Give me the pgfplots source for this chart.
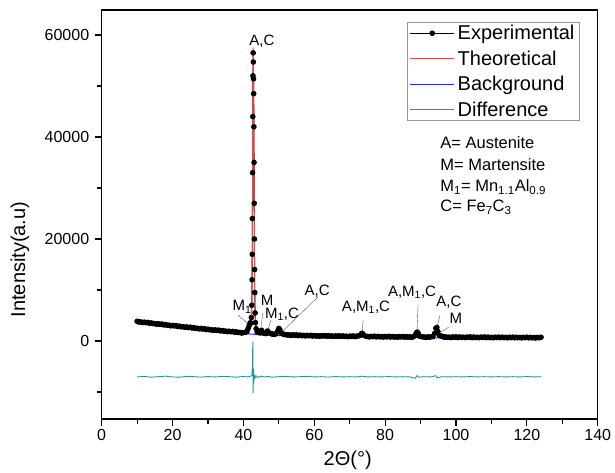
\documentclass[border=0pt]{standalone}
\usepackage{fontspec}
\setmainfont{Liberation Sans}
\usepackage{pgfplots}
\pgfplotsset{compat=1.18}

\definecolor{theo}{RGB}{235,70,70}
\definecolor{bgline}{RGB}{40,40,255}
\definecolor{diffc}{RGB}{40,150,150}

% experimental pattern (2theta, counts)
\pgfplotstableread{
x y
10 3860
10.5 3720
11 3740
11.5 3610
12 3690
12.5 3580
13 3640
13.5 3470
14 3540
14.5 3400
15 3420
15.5 3290
16 3370
16.5 3260
17 3320
17.5 3150
18 3220
18.5 3080
19 3100
19.5 2970
20 3050
20.5 2940
21 3005
21.5 2840
22 2910
22.5 2770
23 2795
23.5 2670
24 2750
24.5 2640
25 2705
25.5 2540
26 2610
26.5 2470
27 2495
27.5 2370
28 2450
28.5 2340
29 2405
29.5 2240
30 2310
30.5 2180
31 2205
31.5 2080
32 2170
32.5 2070
33 2135
33.5 1970
34 2050
34.5 1920
35 1945
35.5 1820
36 1910
36.5 1810
37 1875
37.5 1710
38 1790
38.5 1660
39 1685
39.5 1560
40 1650
40.5 1700
41.0 1850
41.3 2400
41.6 3000
41.9 3550
42.1 3500
42.25 4600
42.35 7000
42.45 12000
42.5 17000
42.55 24000
42.6 33000
42.65 44000
42.7 52000
42.75 56500
42.8 54700
42.85 51400
42.9 48500
42.95 42000
43.0 35000
43.05 27000
43.1 20000
43.15 14000
43.2 9500
43.3 5500
43.4 3600
43.6 2400
43.9 1750
44.3 1650
44.8 1600
45.1 2100
45.4 1650
45.8 1550
46.3 1450
46.8 1950
47.2 1600
47.8 1450
48.2 1350
48.5 1280
48.9 1330
49.2 1450
49.7 1950
50.0 2450
50.3 2200
50.7 1550
51.2 1360
51.6 1250
52 1260
52.5 1150
53 1200
53.5 1095
54 1200
54.5 1115
55 1200
55.5 1055
56 1150
56.5 1040
57 1090
57.5 990
58 1100
58.5 1020
59 1110
59.5 970
60 1070
60.5 965
61 1020
61.5 925
62 1040
62.5 965
63 1060
63.5 925
64 1030
64.5 925
65 980
65.5 885
66 1000
66.5 925
67 1020
67.5 885
68 990
68.5 885
69 940
69.5 845
70 960
70.5 886
71 982
71.5 848
72 954
72.5 1000
73.0 1150
73.3 1450
73.6 1480
73.9 1150
74.5 930
75 890
75.5 796
76 912
76.5 838
77 934
77.5 800
78 906
78.5 802
79 858
79.5 764
80 880
80.5 807
81 904
81.5 771
82 878
82.5 775
83 832
83.5 739
84 856
84.5 783
85 880
85.5 747
86 854
86.5 751
87 808
87.5 715
88.0 850
88.5 1150
88.8 1600
89.1 1750
89.4 1400
89.8 920
90.5 800
91 786
91.5 693
92 810
92.5 737
93 834
93.5 850
94.0 1500
94.3 2500
94.6 2650
94.9 1850
95.3 1100
95.8 950
96.2 900
96.6 760
97 802
97.5 700
98 758
98.5 666
99 784
99.5 712
100 810
100.5 678
101 787
101.5 685
102 743
102.5 652
103 770
103.5 698
104 797
104.5 665
105 773
105.5 672
106 730
106.5 638
107 757
107.5 685
108 783
108.5 652
109 760
109.5 658
110 717
110.5 625
111 743
111.5 672
112 770
112.5 638
113 747
113.5 645
114 703
114.5 612
115 730
115.5 658
116 757
116.5 625
117 733
117.5 632
118 690
118.5 598
119 717
119.5 645
120 743
120.5 612
121 720
121.5 618
122 677
122.5 585
123 703
123.5 632
124 730
}\expdata

\pgfplotstableread{
x y
10 3800
15 3400
20 3000
25 2600
30 2250
35 1900
39 1660
40 1600
40.5 1650
41 1850
41.3 2300
41.6 2950
41.9 3450
42.1 3500
42.25 4500
42.35 7000
42.45 12000
42.5 17000
42.55 24500
42.6 34000
42.65 45000
42.7 53000
42.75 57500
42.8 55000
42.85 51000
42.9 47000
42.95 41000
43.0 34000
43.05 26500
43.1 19500
43.15 13500
43.2 9200
43.3 5300
43.4 3500
43.6 2350
43.9 1750
44.3 1600
44.8 1620
45.1 2000
45.4 1650
45.8 1500
46.3 1480
46.8 1900
47.2 1600
47.8 1420
48.5 1320
49.2 1420
49.7 1950
50.0 2400
50.3 2150
50.7 1550
51.2 1300
52 1200
55 1120
60 1010
65 960
70 910
72.5 920
73.0 1100
73.3 1400
73.6 1450
73.9 1150
74.5 900
80 830
85 800
87.5 790
88.0 830
88.5 1100
88.8 1550
89.1 1700
89.4 1350
89.8 900
90.5 780
93 765
93.5 820
94.0 1500
94.3 2450
94.6 2600
94.9 1800
95.3 1050
95.8 920
96.2 880
96.6 770
100 740
110 700
124 650
}\theodata

\pgfplotstableread{
x y
10 3650
15 3250
20 2850
25 2450
30 2100
35 1750
40 1450
45 1220
50 1050
55 950
60 870
70 770
80 690
90 630
100 590
110 550
124 510
}\bgdata

\pgfplotstableread{
x y
10 -7050
12 -6950
14 -7100
16 -7000
18 -6900
20 -7050
22 -7100
24 -6950
26 -7000
28 -7080
30 -6980
32 -7050
34 -6950
36 -7000
38 -7100
40 -6950
41 -7050
42 -6900
42.4 -6800
42.55 -4500
42.65 -200
42.72 -10200
42.8 -5500
42.9 -8300
43.0 -6500
43.2 -7400
43.5 -6800
44 -7150
45 -6900
46 -7050
47 -6950
48 -7100
50 -7000
52 -6950
54 -7050
56 -7000
58 -6950
60 -7050
62 -7000
64 -7080
66 -6980
68 -7050
70 -7000
72 -7050
73.5 -6900
75 -7050
77 -7000
79 -7050
81 -6980
83 -7050
85 -7000
87 -7050
88.5 -7300
89 -6800
89.5 -7100
91 -7000
93 -7050
94.3 -6800
94.8 -7250
96 -7000
98 -7050
100 -7000
102 -7050
104 -6980
106 -7040
108 -7000
110 -7050
112 -6990
114 -7050
116 -7000
118 -7050
120 -6980
122 -7050
124 -7000
}\diffdata

\begin{document}
\begin{tikzpicture}
\begin{axis}[
  width=496pt, height=409pt, scale only axis,
  xmin=0, xmax=140, ymin=-15300, ymax=64900,
  xtick={0,20,...,140}, minor xtick={10,30,...,130},
  ytick={0,20000,40000,60000}, minor ytick={-10000,10000,30000,50000},
  scaled y ticks=false,
  tick pos=left, tick align=outside,
  major tick length=7pt, minor tick length=4.5pt,
  axis line style={line width=1.1pt},
  tick style={black, line width=1.1pt},
  ticklabel style={font=\fontsize{16}{19}\selectfont},
  yticklabel style={xshift=-2pt},
  /pgf/number format/assume math mode=true,
  /pgf/number format/fixed,
  /pgf/number format/set thousands separator={},
  clip=false,
  legend style={at={(0.964,0.971)}, anchor=north east, draw=gray!80,
    line width=0.8pt, font=\fontsize{20}{22}\selectfont,
    row sep=7.5pt, inner sep=2pt, nodes={inner xsep=3pt, inner ysep=1pt}},
  legend cell align=left,
  legend image code/.code={\draw[mark repeat=2,mark phase=2,#1]
    plot coordinates {(0pt,0pt) (22pt,0pt) (44pt,0pt)};},
]
\addplot[black, draw=black, line width=1pt, line join=round, mark=*, mark size=2.3pt] table[x=x,y=y] {\expdata};
\addlegendentry{Experimental}
\addplot[theo, draw=theo, line width=1pt, line join=round] table[x=x,y=y] {\theodata};
\addlegendentry{Theoretical}
\addplot[bgline, draw=bgline, line width=1pt] table[x=x,y=y] {\bgdata};
\addlegendentry{Background}
\addplot[diffc, draw=diffc, line width=0.9pt, line join=round] table[x=x,y=y] {\diffdata};
\addlegendentry{Difference}

% phase labels
\begin{scope}[font=\fontsize{15}{18}\selectfont]
\node at (axis cs:45.2,58800) {A,C};
\node at (axis cs:39.6,6670) {M\textsubscript{1}};
\draw[gray!70!black, thin] (axis cs:38.5,5100) -- (axis cs:41.6,3140);
\node at (axis cs:46.7,8040) {M};
\draw[gray!70!black, thin] (axis cs:45.5,5490) -- (axis cs:44.96,2745);
\node at (axis cs:50.9,5290) {M\textsubscript{1},C};
\draw[gray!70!black, thin] (axis cs:47.8,4120) -- (axis cs:46.9,2160);
\node at (axis cs:60.8,9800) {A,C};
\draw[gray!70!black, thin] (axis cs:61.0,8630) -- (axis cs:50.9,1765);
\node at (axis cs:74.6,6670) {A,M\textsubscript{1},C};
\draw[gray!70!black, thin] (axis cs:73.8,4120) -- (axis cs:73.5,1570);
\node at (axis cs:87.6,9610) {A,M\textsubscript{1},C};
\draw[gray!70!black, thin] (axis cs:89.3,7060) -- (axis cs:89.0,2160);
\node at (axis cs:98.0,7650) {A,C};
\draw[gray!70!black, thin] (axis cs:95.5,5100) -- (axis cs:94.6,2550);
\node at (axis cs:100.0,4510) {M};
\draw[gray!70!black, thin] (axis cs:98.0,2745) -- (axis cs:95.8,1765);
\end{scope}

\begin{scope}[font=\fontsize{16.5}{19}\selectfont]
\node[anchor=west] at (axis cs:94.6,38820) {A= Austenite};
\node[anchor=west] at (axis cs:94.6,34510) {M= Martensite};
\node[anchor=west] at (axis cs:94.6,30200) {M\textsubscript{1}= Mn\textsubscript{1.1}Al\textsubscript{0.9}};
\node[anchor=west] at (axis cs:94.6,26270) {C= Fe\textsubscript{7}C\textsubscript{3}};
\end{scope}

% axis titles
\node[rotate=90, font=\fontsize{20}{24}\selectfont]
  at ([xshift=-81.7pt]rel axis cs:0,0.39) {Intensity(a.u)};
\node[font=\fontsize{20}{24}\selectfont]
  at ([yshift=-41pt]rel axis cs:0.496,0) {2Θ(°)};

\coordinate (sw) at (rel axis cs:0,0);
\coordinate (ne) at (rel axis cs:1,1);
\end{axis}
\pgfresetboundingbox
\path[use as bounding box] ([xshift=-101.7pt,yshift=-53pt]sw) rectangle ([xshift=17.3pt,yshift=10pt]ne);
\end{tikzpicture}
\end{document}
